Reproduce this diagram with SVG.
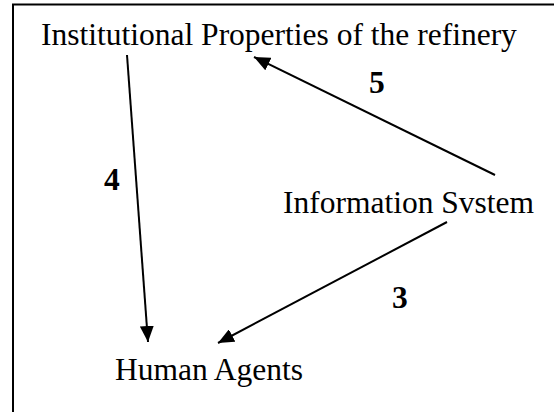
<svg xmlns="http://www.w3.org/2000/svg" width="554" height="412" viewBox="0 0 554 412">
<style>
.t{font-family:"Liberation Serif","Times New Roman",serif;font-size:31.5px;fill:#000}
.n{font-family:"Liberation Serif","Times New Roman",serif;font-size:31.5px;font-weight:bold;fill:#000}
.c{stroke:#000;stroke-width:2;fill:none}
</style>
<defs>
<marker id="a" viewBox="0 0 16 14" refX="16" refY="7" markerWidth="16" markerHeight="14" markerUnits="userSpaceOnUse" orient="auto">
<path d="M0,0 L16,7 L0,14 Z" fill="#000"/>
</marker>
</defs>
<rect width="554" height="412" fill="#fff"/>
<path d="M13,412 V4.5 H554" stroke="#000" stroke-width="2" fill="none"/>
<g id="node-institutional"><text class="t" x="41" y="45">Institutional Properties of the refinery</text></g>
<g id="node-information"><text class="t" x="283" y="213">Information Svstem</text></g>
<g id="node-human"><text class="t" x="115" y="380">Human Agents</text></g>
<g id="connectors">
<line class="c" x1="495" y1="175" x2="254" y2="57" marker-end="url(#a)"/>
<line class="c" x1="127" y1="55" x2="148" y2="342" marker-end="url(#a)"/>
<line class="c" x1="447" y1="222" x2="218" y2="343" marker-end="url(#a)"/>
<text class="n" x="369" y="93">5</text>
<text class="n" x="104" y="190">4</text>
<text class="n" x="392" y="308">3</text>
</g>
</svg>
